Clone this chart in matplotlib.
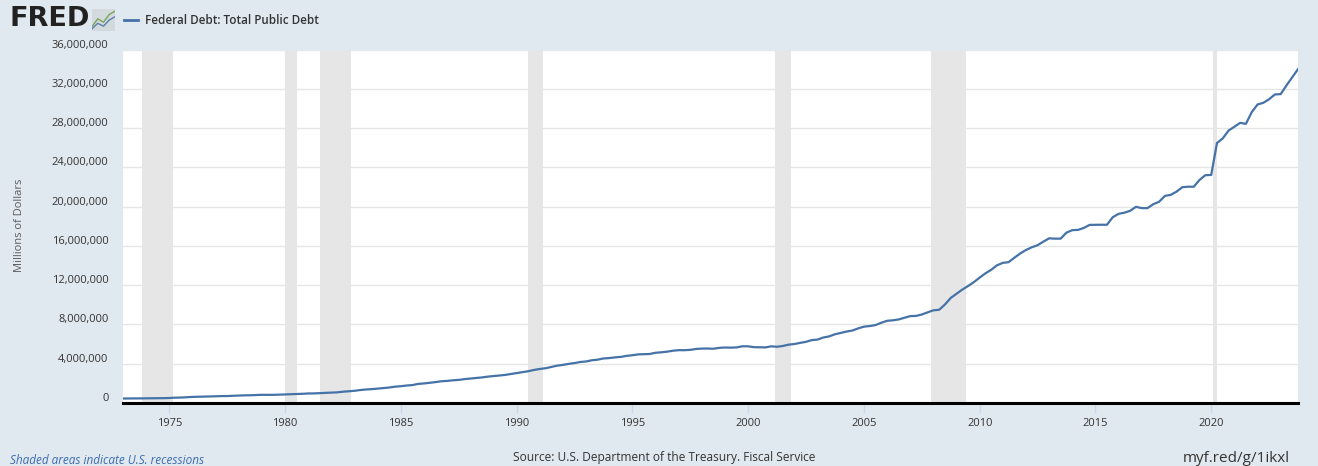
import matplotlib
matplotlib.use("Agg")
import matplotlib.pyplot as plt
import matplotlib.transforms as mtransforms
import pandas as pd

# ---- data (millions of dollars, quarterly from 1973Q1) ----
start_date = "1973-01-01"
debt = [
    457317, 458183, 466291, 469898,
    474235, 475060, 481500, 492665,
    509696, 541925, 554301, 587576,
    620433, 634701, 651468, 665544,
    683000, 705000, 709000, 738000,
    758000, 780000, 789000, 815000,
    832000, 826000, 829000, 850000,
    870000, 884000, 914000, 936000,
    971000, 977000, 1003000, 1030000,
    1064000, 1084000, 1147000, 1197000,
    1244000, 1319000, 1377000, 1410000,
    1463000, 1517000, 1576000, 1663000,
    1710000, 1779000, 1823000, 1946000,
    1991000, 2059000, 2125000, 2215000,
    2250000, 2310000, 2350000, 2432000,
    2493000, 2547000, 2602000, 2684000,
    2740000, 2799000, 2857000, 2953000,
    3052000, 3143000, 3233000, 3364000,
    3465000, 3538000, 3665000, 3801000,
    3881000, 3984000, 4065000, 4177000,
    4230000, 4352000, 4411000, 4536000,
    4575000, 4645000, 4693000, 4800000,
    4864000, 4951000, 4974000, 4989000,
    5118000, 5161000, 5225000, 5323000,
    5381000, 5376000, 5413000, 5502000,
    5542000, 5548000, 5526000, 5614000,
    5651000, 5638000, 5656000, 5776000,
    5773000, 5686000, 5674000, 5662000,
    5773000, 5726000, 5807000, 5943000,
    6006000, 6126000, 6228000, 6405000,
    6460000, 6670000, 6783000, 6998000,
    7131000, 7274000, 7379000, 7596000,
    7776000, 7836000, 7933000, 8170000,
    8371000, 8420000, 8507000, 8680000,
    8849000, 8867000, 9008000, 9229000,
    9437000, 9492000, 10025000, 10700000,
    11127000, 11545000, 11910000, 12311000,
    12773000, 13202000, 13562000, 14025000,
    14270000, 14343000, 14790000, 15223000,
    15582000, 15856000, 16066000, 16433000,
    16771000, 16738000, 16738000, 17352000,
    17602000, 17632000, 17824000, 18141000,
    18152000, 18152000, 18151000, 18922000,
    19264000, 19381000, 19573000, 19977000,
    19847000, 19845000, 20245000, 20493000,
    21090000, 21195000, 21516000, 21974000,
    22028000, 22023000, 22719000, 23201000,
    23224000, 26477000, 26945000, 27748000,
    28133000, 28529000, 28429000, 29617000,
    30401000, 30569000, 30929000, 31420000,
    31458000, 32332000, 33167000, 34001000,
]
recession_starts = ["1973-11-01", "1980-01-01", "1981-07-01", "1990-07-01",
                    "2001-03-01", "2007-12-01", "2020-02-01"]
recession_ends = ["1975-03-01", "1980-07-01", "1982-11-01", "1991-03-01",
                  "2001-11-01", "2009-06-01", "2020-04-01"]
x_tick_years = [1975, 1980, 1985, 1990, 1995, 2000, 2005, 2010, 2015, 2020]
y_ticks = [0, 4000000, 8000000, 12000000, 16000000, 20000000, 24000000,
           28000000, 32000000, 36000000]
series_title = "Federal Debt: Total Public Debt"
y_label = "Millions of Dollars"

dates = pd.date_range(start_date, periods=len(debt), freq="QS")

BG = "#e1e9f0"
LINE = "#4572a7"
TXT = "#333333"
FONT = ["Open Sans", "DejaVu Sans"]

fig = plt.figure(figsize=(13.18, 4.66), dpi=100, facecolor=BG)
ax = fig.add_axes([123 / 1318, 63 / 466, (1298 - 123) / 1318, (403 - 49.5) / 466])
ax.set_facecolor("white")

for s, e in zip(recession_starts, recession_ends):
    ax.axvspan(pd.Timestamp(s), pd.Timestamp(e), color="#e6e6e6", lw=0, zorder=1)

ax.plot(dates, debt, color=LINE, lw=1.6, zorder=3, solid_joinstyle="round")

ax.set_xlim(dates[0], dates[-1])
ax.set_ylim(0, 36000000)

ax.set_yticks(y_ticks)
ax.set_yticklabels([f"{v:,}" for v in y_ticks])
ax.yaxis.grid(True, color="#e6e6e6", lw=1)
ax.set_axisbelow(True)
ax.tick_params(axis="y", length=0, pad=10.5, labelsize=8, labelcolor=TXT)
for lab in ax.get_yticklabels():
    lab.set_transform(lab.get_transform() +
                      mtransforms.ScaledTranslation(0, 6 / 100, fig.dpi_scale_trans))
    lab.set_fontfamily(FONT)

ax.set_xticks([pd.Timestamp(f"{y}-01-01") for y in x_tick_years])
ax.set_xticklabels([str(y) for y in x_tick_years])
ax.tick_params(axis="x", length=7, width=1, color="#ccd6eb", pad=4,
               labelsize=8, labelcolor=TXT)
for lab in ax.get_xticklabels():
    lab.set_fontfamily(FONT)

for side in ["top", "right", "left"]:
    ax.spines[side].set_visible(False)
ax.spines["bottom"].set_color("black")
ax.spines["bottom"].set_linewidth(2.2)
ax.spines["bottom"].set_zorder(4)

fig.text(20 / 1318, 1 - 225 / 466, y_label, rotation=90, ha="center", va="center",
         fontsize=8, color="#595959", family=FONT)

# Header: FRED logo and legend
fig.text(9 / 1318, 1 - 19.5 / 466, "FRED", fontsize=19.5, fontweight="bold",
         color="#222222", ha="left", va="center", family=["DejaVu Sans"])
icon = fig.add_axes([92 / 1318, 1 - 31 / 466, 23 / 1318, 22 / 466])
icon.set_xlim(0, 4)
icon.set_ylim(0, 1)
icon.set_xticks([])
icon.set_yticks([])
icon.set_facecolor("#d3dade")
for sp in icon.spines.values():
    sp.set_visible(False)
icon.plot([0, 1, 2, 3, 4], [0.2, 0.55, 0.4, 0.75, 0.9], color="#7aa35a", lw=1)
icon.plot([0, 1, 2, 3, 4], [0.1, 0.35, 0.22, 0.5, 0.65], color="#5c7fb0", lw=1)

fig.add_artist(plt.Line2D([124 / 1318, 138 / 1318], [1 - 20 / 466, 1 - 20 / 466],
                          color=LINE, lw=2, transform=fig.transFigure))
fig.text(145 / 1318, 1 - 20 / 466, series_title, fontsize=8.4, fontweight="semibold",
         color=TXT, ha="left", va="center", family=FONT)

# Footer
fig.text(10 / 1318, 1 - 461 / 466, "Shaded areas indicate U.S. recessions",
         fontsize=8.5, style="italic", color="#3a6cb0", ha="left", va="center",
         family=FONT)
fig.text(513 / 1318, 1 - 458 / 466,
         "Source: U.S. Department of the Treasury. Fiscal Service",
         fontsize=8.6, color=TXT, ha="left", va="center",
         family=["Liberation Sans Narrow", "Open Sans", "DejaVu Sans"])
fig.text(1290 / 1318, 1 - 458 / 466, "myf.red/g/1ikxl",
         fontsize=11, color=TXT, ha="right", va="center",
         family=["Liberation Sans Narrow", "Open Sans", "DejaVu Sans"])

fig.savefig("out.png", dpi=100, facecolor=BG)
